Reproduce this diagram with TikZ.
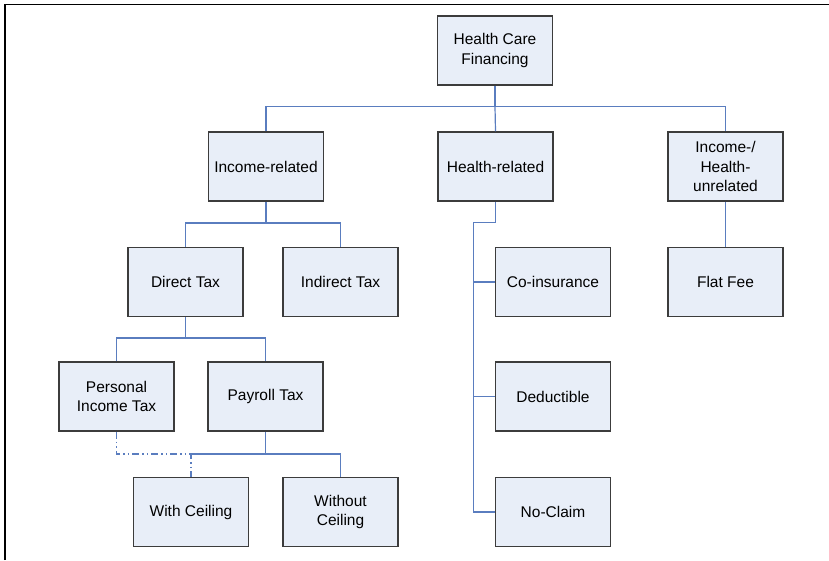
\documentclass[tikz,border=0pt]{standalone}
\usepackage{fontspec}
\setmainfont{Liberation Sans}
\definecolor{boxfill}{HTML}{E8EEF8}
\definecolor{boxline}{HTML}{3C3C3C}
\definecolor{conn}{HTML}{5A7DBF}
\begin{document}
\begin{tikzpicture}[x=1pt,y=-1pt,
  box/.style={draw=boxline, line width=1.5pt, fill=boxfill, minimum width=115pt, minimum height=69pt,
    align=center, inner sep=2pt, font=\fontsize{15.5}{19.5}\selectfont},
  link/.style={draw=conn, line width=1.2pt},
  ddlink/.style={draw=conn, line width=1.5pt, dash pattern=on 7pt off 3pt on 1.5pt off 3pt on 1.5pt off 3pt}]
\useasboundingbox (0,0) rectangle (829,560);
% frame
\draw[line width=1.5pt] (5,560) -- (5,4.5) -- (829,4.5);
% nodes
\node[box] (hcf) at (495,50.5) {Health Care\\Financing};
\node[box] (inc) at (266,166.5) {Income-related};
\node[box] (hr) at (495.5,166.5) {Health-related};
\node[box] (unrel) at (725.5,166.5) {Income-/\\Health-\\unrelated};
\node[box] (dt) at (185.5,282) {Direct Tax};
\node[box] (it) at (340.5,282) {Indirect Tax};
\node[box] (ci) at (553,282) {Co-insurance};
\node[box] (ff) at (725.5,282) {Flat Fee};
\node[box] (pit) at (116.5,396.5) {Personal\\Income Tax};
\node[box] (pt) at (265.5,396.5) {Payroll Tax};
\node[box] (ded) at (553,396.5) {Deductible};
\node[box] (wc) at (191,512) {With Ceiling};
\node[box] (woc) at (340.5,512) {Without\\Ceiling};
\node[box] (nc) at (553,512) {No-Claim};
% junctions
\coordinate (b1) at (495,106.7);
\coordinate (b2) at (266,223);
\coordinate (b3) at (185.5,338);
\coordinate (b4) at (265.5,454);
\coordinate (b5) at (495.5,222.7);
\coordinate (b6) at (473.3,222.7);
% connectors
\draw[link] (hcf.south) -- (b1);
\draw[link] (inc.north) |- (b1) -| (unrel.north);
\draw[link] (b1) -- (hr.north);
\draw[link] (unrel) -- (ff);
\draw[link] (inc.south) -- (b2);
\draw[link] (dt.north) |- (b2) -| (it.north);
\draw[link] (dt.south) -- (b3);
\draw[link] (pit.north) |- (b3) -| (pt.north);
\draw[link] (pt.south) -- (b4);
\draw[link] (wc.north |- b4) -- (b4) -| (woc.north);
\draw[ddlink] (pit.south) |- (wc.north |- b4) -- (wc.north);
\draw[link] (hr.south) -- (b5) -- (b6) |- (nc.west);
\draw[link] (b6 |- ci.west) -- (ci.west);
\draw[link] (b6 |- ded.west) -- (ded.west);
\end{tikzpicture}
\end{document}
